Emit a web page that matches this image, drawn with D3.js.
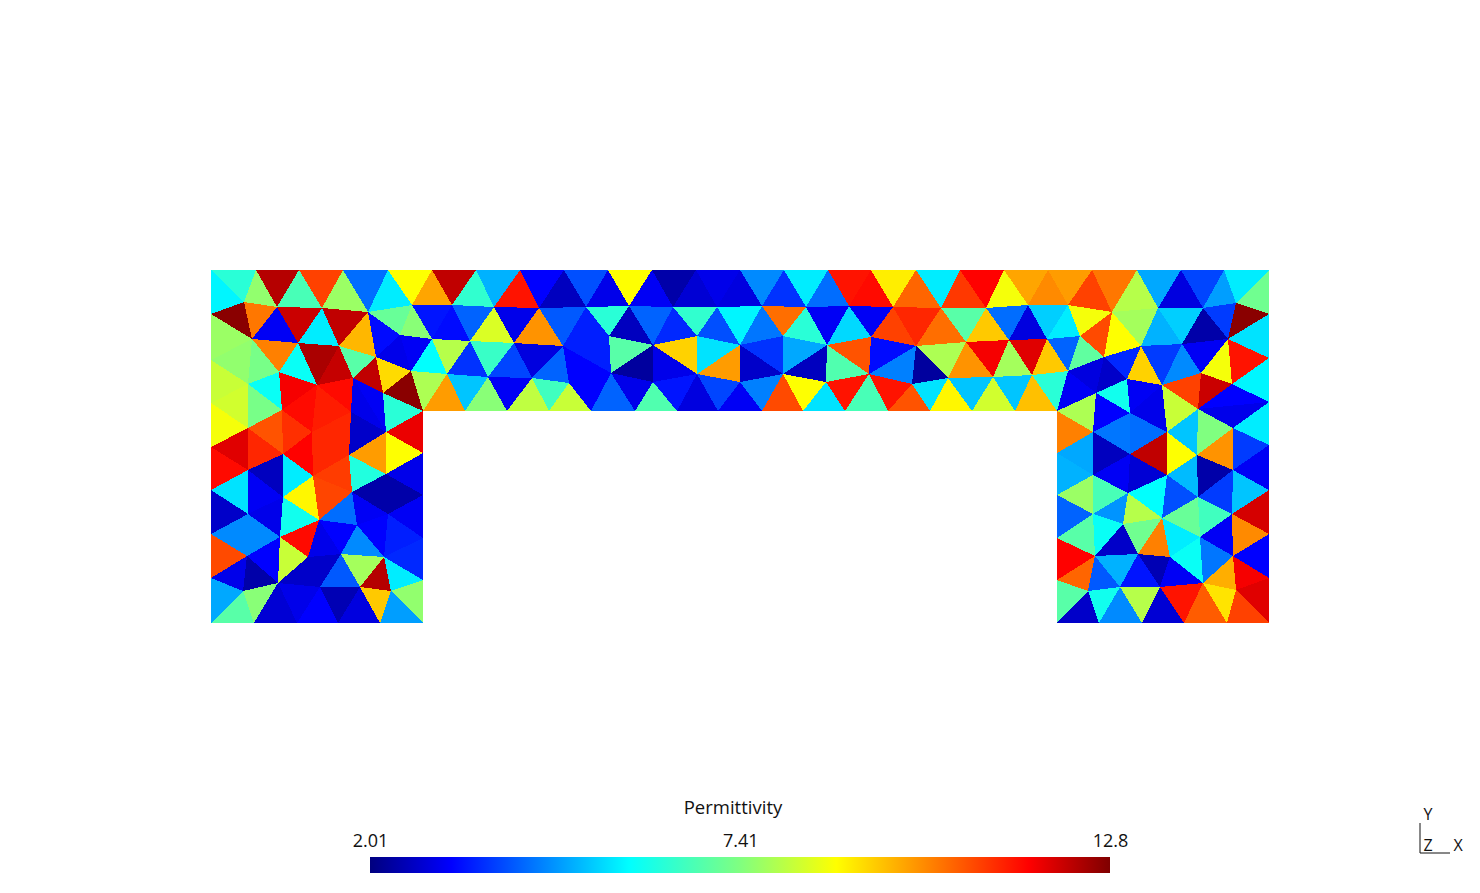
<!DOCTYPE html>
<html>
<head>
<meta charset="utf-8">
<script src="https://cdn.jsdelivr.net/npm/d3@7"></script>
<style>
html,body{margin:0;padding:0;background:#fff;}
svg{display:block;}
text{font-family:"Open Sans",sans-serif;fill:#111;}
</style>
</head>
<body>
<svg id="chart" width="1480" height="893"></svg>
<script>
// Mesh vertices (domain units of the geometry extent)
const vertexX = [211,256,299,343,388,432,244,277,322,368,412,211,252,298,339,376,400,432,279,317,353,411,383,211,248,211,248,282,312,351,386,423,
248,211,283,313,349,352,386,423,423,388,357,319,283,248,211,280,247,211,308,341,384,423,423,391,360,320,278,243,211,254,297,338,380,423,211,
452,470,447,465,476,494,514,488,507,520,539,563,532,549,564,586,609,569,591,608,629,611,635,652,673,653,653,677,696,717,697,697,718,740,762,740,740,762,784,806,783,783,803,828,849,827,826,845,
871,893,871,869,888,916,941,916,912,930,960,986,966,948,972,1004,1028,1009,993,1015,1048,1068,1047,1032,1057,1080,1068,
1092,1112,1104,1096,1093,1137,1158,1141,1127,1130,1181,1203,1182,1162,1167,1224,1236,1228,1201,1198,1269,1269,1269,1232,1269,1233,1269,
1057,1093,1130,1167,1197,1233,1269,1057,1128,1198,1162,1232,1269,1093,1123,1057,1095,1138,1170,1200,1233,1269,1057,1088,1120,1160,1203,1236,1057,1099,1142,1184,1227,1269];
const vertexY = [270,270,270,270,270,270,302,307,308,312,305,314,339,343,346,357,335,339,372,385,378,371,393,360,384,403,428,410,432,412,432,411,
470,490,454,476,455,492,474,453,495,514,525,520,497,514,534,537,556,578,557,554,557,538,580,591,587,587,583,591,623,623,623,623,623,623,447,
305,341,374,411,270,307,343,377,411,270,308,346,378,411,270,307,336,383,411,270,306,373,411,270,307,345,382,411,270,307,336,374,411,270,306,345,382,411,270,307,336,374,411,270,306,345,382,411,
270,307,337,374,411,270,308,346,384,411,270,308,342,378,411,270,305,340,377,411,270,305,339,375,411,336,371,
270,312,357,393,432,270,308,346,379,413,270,308,344,385,432,270,303,339,373,409,270,314,358,384,402,428,445,
453,475,454,475,455,470,490,495,493,497,518,514,534,514,524,538,556,554,557,537,556,578,580,591,587,587,583,590,623,623,623,623,623,623];

const leftCells = [
[0,6,11],[0,1,6],[1,7,6],[1,2,7],[2,8,7],[2,3,8],[3,9,8],[3,4,9],[4,10,9],[4,5,10],
[6,11,12],[6,7,12],[7,13,12],[7,8,13],[8,14,13],[8,9,14],[9,15,14],[9,16,15],[9,10,16],[10,17,16],
[10,67,17],[16,17,21],[15,16,21],[17,69,21],[21,69,31],[21,31,22],[15,21,22],[14,15,20],[15,22,20],[14,20,19],
[13,14,19],[13,19,18],[12,13,18],[12,18,24],[11,12,23],[12,24,23],[23,24,25],[24,26,25],[18,27,24],[24,27,26],
[25,26,66],[18,19,27],[27,19,28],[19,29,28],[19,20,29],[28,29,36],[27,28,34],[26,27,34],[26,34,32],[66,26,32],
[66,32,33],[20,22,30],[20,30,29],[22,31,30],[29,30,36],[30,36,38],[30,38,39],[30,31,39],[36,37,38],[28,36,35],
[35,36,37],[35,37,43],[28,34,35],[34,32,44],[34,44,35],[35,43,44],[32,33,45],[32,44,45],[44,47,45],[33,45,46],
[45,47,48],[45,46,48],[46,48,49],[44,43,47],[43,50,47],[47,50,58],[47,58,48],[48,58,59],[48,59,49],[49,59,60],
[59,60,61],[59,58,61],[58,61,62],[58,57,62],[57,63,62],[57,56,63],[56,64,63],[50,57,58],[50,51,57],[51,56,57],
[51,52,56],[52,55,56],[55,64,56],[55,65,64],[55,54,65],[52,54,55],[52,53,54],[42,52,51],[43,42,51],[43,51,50],
[37,42,43],[37,41,42],[42,41,52],[41,53,52],[41,40,53],[37,38,41],[38,40,41],[38,39,40]];
const leftValues = [
5.7,6.3,7.6,12.3,6.7,10.9,7.7,4.3,5.6,8.8,
12.7,10.3,3.1,12.1,5.6,12.2,9.6,3.3,7.1,7.5,
3.4,3.1,3.0,5.8,7.9,12.7,9.2,6.9,12.2,12.15,
12.4,5.9,10.2,7.3,7.7,7.6,8.2,8.3,5.9,7.3,
8.7,11.7,11.5,11.3,11.5,11.2,11.1,10.7,11.2,11.9,
11.5,3.1,3.0,6.3,2.7,9.9,8.8,11.8,6.2,11.2,
10.95,10.85,11.6,2.6,5.6,8.9,5.5,3.1,3.0,2.7,
4.6,4.6,10.8,6.0,11.5,8.2,3.2,2.4,3.0,4.9,
6.9,7.5,2.8,3.0,3.2,2.5,2.9,2.7,2.7,4.1,
7.8,12.3,9.4,4.8,7.6,5.6,3.6,4.6,3.2,3.0,
4.3,3.1,3.2,3.5,3.1,2.4,2.4,3.0];

const bandCells = [
[5,71,67],[5,67,10],[71,72,67],[71,76,72],[76,77,72],[76,81,77],[81,82,77],[81,86,82],[86,87,82],[86,90,87],
[67,68,17],[67,72,68],[72,73,68],[72,77,73],[77,78,73],[77,82,78],[82,83,78],[82,87,83],[87,92,83],[17,68,69],
[68,74,69],[68,73,74],[73,79,74],[73,78,79],[78,84,79],[78,88,84],[78,83,88],[83,92,88],[69,74,70],[69,70,31],
[74,75,70],[74,79,75],[79,80,75],[79,84,80],[84,85,80],[84,88,85],[88,89,85],[88,93,89],[88,92,93],
[90,91,87],[90,95,91],[95,96,91],[95,100,96],[100,101,96],[100,105,101],[105,106,101],[105,110,106],[110,111,106],[110,115,111],
[87,91,92],[91,97,92],[91,96,97],[96,102,97],[96,101,102],[101,107,102],[101,106,107],[106,112,107],[106,111,112],[111,117,112],
[92,97,98],[92,98,93],[97,102,98],[102,103,98],[102,108,103],[102,107,108],[107,112,108],[112,113,108],[112,117,118],[112,118,113],
[93,94,89],[93,98,94],[98,99,94],[98,103,99],[103,104,99],[103,108,104],[108,109,104],[108,113,109],[113,114,109],[113,118,114],
[115,116,111],[115,120,116],[120,121,116],[120,125,121],[125,126,121],[125,130,126],[130,131,126],[130,135,131],[135,136,131],[111,116,117],
[116,122,117],[116,121,122],[121,127,122],[121,126,127],[126,132,127],[126,131,132],[131,137,132],[131,136,137],[136,140,137],[117,122,118],
[122,123,118],[122,128,123],[122,127,128],[127,133,128],[127,132,133],[132,138,133],[132,137,138],[137,141,138],[137,140,141],[118,123,119],
[123,124,119],[118,119,114],[123,128,124],[128,129,124],[128,133,129],[133,134,129],[133,138,134],[138,139,134],[138,141,139]];
const bandValues = [
12.2,9.8,6.4,5.0,11.4,3.2,2.6,4.0,3.0,8.8,
3.3,4.2,8.4,3.0,10.0,4.1,3.5,6.3,2.6,8.0,
3.7,6.5,3.9,2.9,4.2,3.2,3.5,6.9,5.2,9.9,
7.5,3.1,8.1,6.6,8.2,3.2,4.2,3.0,2.3,
3.1,2.4,2.8,3.0,2.9,4.6,3.7,5.6,4.3,11.4,
4.2,3.6,6.4,4.0,5.7,4.4,10.4,6.3,3.1,5.4,
9.3,3.0,5.5,9.9,2.7,3.7,4.9,2.6,10.7,6.8,
6.8,3.4,2.9,3.9,3.1,4.5,10.8,8.8,5.5,11.4,
11.5,9.0,10.5,5.6,11.0,11.6,8.7,9.8,10.1,3.1,
10.9,11.2,10.4,6.9,9.4,4.3,2.9,5.3,5.6,3.3,
4.5,2.3,7.9,10.0,11.7,7.8,11.9,9.4,4.2,11.4,
10.7,6.7,5.5,8.9,5.2,8.3,5.2,9.5,6.3];

const rightCells = [
[135,142,136],[142,143,136],[142,147,143],[147,148,143],[147,152,148],[152,153,148],[152,157,153],[157,158,153],[157,162,158],[162,163,158],
[136,143,140],[143,144,140],[143,149,144],[143,148,149],[148,154,149],[148,153,154],[153,159,154],[153,158,159],[158,163,159],[159,163,164],
[159,164,165],[154,159,160],[159,165,160],[154,160,155],[149,154,155],[149,155,150],[144,149,150],[140,144,141],[141,144,145],[144,150,145],
[141,145,139],[145,150,151],[150,155,151],[155,156,151],[139,145,146],[145,151,146],[139,146,169],[169,146,170],[169,170,176],[146,171,170],
[146,151,171],[151,156,171],[171,156,172],[156,173,172],[156,161,173],[155,161,156],[155,160,161],[160,165,161],[165,166,161],[161,166,167],
[165,164,166],[161,167,173],[167,174,173],[167,166,168],[167,168,174],[168,175,174],
[176,170,182],[170,177,182],[170,171,177],[171,172,177],[177,172,179],[177,179,183],[182,177,183],[172,178,179],[172,173,178],[173,174,178],
[178,174,180],[174,175,180],[180,175,181],[180,181,189],[189,181,190],[178,180,188],[178,188,179],[188,180,189],[188,189,195],[195,189,196],
[189,190,196],[196,190,202],[196,202,201],[195,196,201],[195,201,200],[194,195,200],[179,188,187],[187,188,195],[179,187,186],[183,179,186],
[182,183,185],[183,186,185],[184,182,185],[176,182,184],[184,185,191],[191,185,192],[185,193,192],[185,186,193],[186,194,193],[186,187,194],
[187,195,194],[191,192,197],[197,192,198],[192,193,198],[193,199,198],[193,194,199],[194,200,199]];
const rightValues = [
9.9,10.9,10.3,8.0,4.9,2.9,3.9,4.8,5.6,7.2,
8.7,10.8,8.8,7.8,5.0,5.3,2.4,3.8,12.7,5.5,
11.4,3.1,8.7,4.6,3.8,9.3,3.6,7.0,2.9,2.7,
3.1,6.0,3.1,3.0,7.9,3.2,10.2,4.9,5.0,2.6,
4.4,4.3,12.2,8.8,5.2,8.2,10.9,12.1,3.2,3.0,
5.7,7.4,10.0,5.6,3.8,3.1,
7.7,6.7,3.1,2.8,5.8,8.0,4.7,4.0,5.1,2.4,
3.8,5.2,12.0,10.1,3.2,6.6,7.1,3.1,4.4,9.7,
11.7,11.9,10.9,9.1,10.6,11.4,5.6,5.9,10.2,7.2,
5.9,2.7,6.9,4.2,11.6,10.5,4.1,5.0,3.4,2.5,
3.1,6.9,2.7,6.0,4.6,8.0,2.8];

const legendTitle = "Permittivity";
const legendTicks = [2.01, 7.41, 12.8];
const legendLabels = ["2.01", "7.41", "12.8"];
const jetStops = [0, 0.11, 0.35, 0.5, 0.63, 0.89, 1];
const jetColors = ["#00007f", "#0000ff", "#00ffff", "#80ff80", "#ffff00", "#ff0000", "#7f0000"];
const triadLabels = ["Y", "Z", "X"];

const svg = d3.select("#chart");
const vMin = legendTicks[0], vMax = legendTicks[2];

const sx = d3.scaleLinear().domain([211, 1269]).range([211, 1269]);
const sy = d3.scaleLinear().domain([270, 623]).range([270, 623]);
const norm = d3.scaleLinear().domain([vMin, vMax]).range([0, 1]);
const jet = d3.scaleLinear().domain(jetStops).range(jetColors).interpolate(d3.interpolateRgb).clamp(true);
const color = v => jet(norm(v));

const cells = leftCells.concat(bandCells, rightCells);
const values = leftValues.concat(bandValues, rightValues);
const line = d3.line().x(i => sx(vertexX[i])).y(i => sy(vertexY[i])).curve(d3.curveLinearClosed);

svg.append("g").attr("shape-rendering", "crispEdges").selectAll("path").data(cells).join("path")
  .attr("d", c => line(c))
  .attr("fill", (c, i) => color(values[i]));

// Colour legend
const lx = d3.scaleLinear().domain([vMin, vMax]).range([370, 1110]);
const grad = svg.append("defs").append("linearGradient").attr("id", "jetGrad");
grad.selectAll("stop").data(jetStops).join("stop")
  .attr("offset", d => d).attr("stop-color", (d, i) => jetColors[i]);
svg.append("rect").attr("x", lx(vMin)).attr("y", 857).attr("width", lx(vMax) - lx(vMin)).attr("height", 16).attr("fill", "url(#jetGrad)");

const axis = d3.axisTop(lx).tickValues(legendTicks).tickSize(0).tickPadding(0)
  .tickFormat((d, i) => legendLabels[i]);
const ag = svg.append("g").attr("transform", "translate(0,847)").call(axis);
ag.select(".domain").remove();
ag.selectAll("text").attr("font-size", 18).style("font-family", '"Open Sans",sans-serif').style("fill", "#111");

svg.append("text").attr("x", 733).attr("y", 814).attr("text-anchor", "middle").attr("font-size", 18.5).text(legendTitle);

// Orientation triad
const triadPos = [[1428, 820], [1428, 851], [1458, 851]];
svg.append("g").selectAll("text").data(triadLabels).join("text")
  .attr("x", (d, i) => triadPos[i][0]).attr("y", (d, i) => triadPos[i][1])
  .attr("text-anchor", "middle").attr("font-size", 16).text(d => d);
svg.append("path").attr("d", d3.line()([[1420, 823], [1420, 853], [1450, 853]])).attr("fill", "none").attr("stroke", "#111").attr("stroke-width", 1);
</script>
</body>
</html>
